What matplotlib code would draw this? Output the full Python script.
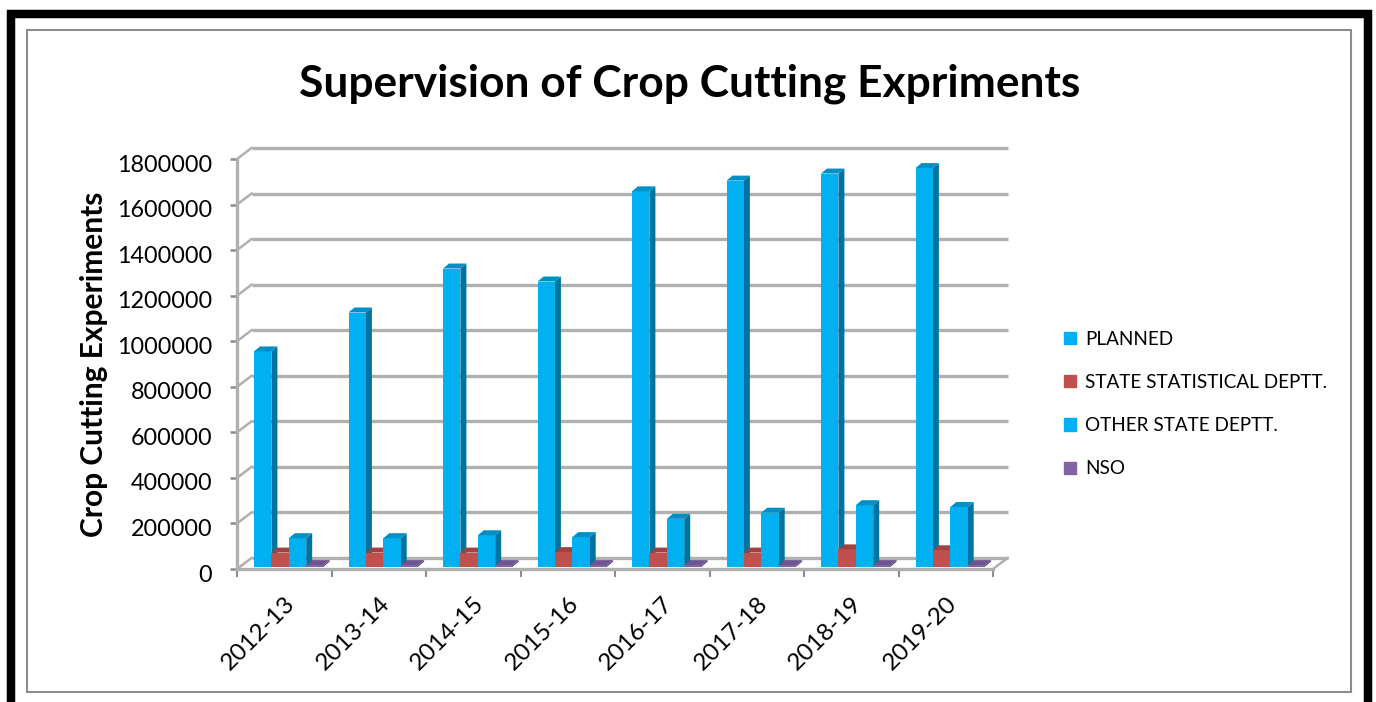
import matplotlib
matplotlib.use('Agg')
import matplotlib.pyplot as plt
from matplotlib.patches import Rectangle, Patch
from matplotlib.transforms import ScaledTranslation
import numpy as np

years = ['2012-13', '2013-14', '2014-15', '2015-16', '2016-17', '2017-18', '2018-19', '2019-20']
planned = [945000, 1116000, 1309000, 1252000, 1648000, 1695000, 1726000, 1750000]
state_stat = [62000, 62000, 62000, 64000, 62000, 62000, 76000, 72000]
other_dept = [125000, 125000, 138000, 130000, 210000, 237000, 270000, 262000]
nso = [7000, 7000, 7000, 7000, 7000, 7000, 7000, 7000]
y_ticks = np.arange(0, 2000000, 200000)

plt.rcParams['font.family'] = ['Lato', 'DejaVu Sans']

W, H = 1376, 702
fig = plt.figure(figsize=(W/100, H/100), dpi=100)

# frames round the picture, the black one runs off the bottom
fig.add_artist(Rectangle((11.3/W, 1-720/H), (1367.5-11.3)/W, (720-14)/H, transform=fig.transFigure,
                         fill=False, ec='black', lw=6.1))
fig.add_artist(Rectangle((27/W, 1-691.5/H), (1350.5-27)/W, (691.5-29.5)/H, transform=fig.transFigure,
                         fill=False, ec='#8c8c8c', lw=1.5))

# axes is the front plane of the 3d box
left, right, top, bottom = 237, 993, 159, 569
ax = fig.add_axes([left/W, 1-bottom/H, (right-left)/W, (bottom-top)/H])
ax.set_xlim(0, 8)
ax.set_ylim(0, 1800000)
ax.patch.set_alpha(0)

px_x = 8/(right-left)
px_y = 1800000/(bottom-top)
wall_dx = 14.5*px_x
wall_dy = 11*px_y
gray = '#b0b0b0'

for v in y_ticks:
    ax.plot([wall_dx, 8+wall_dx], [v+wall_dy, v+wall_dy], color=gray, lw=2.4, clip_on=False, zorder=1,
            solid_capstyle='butt')
    ax.plot([0, wall_dx], [v, v+wall_dy], color=gray, lw=1.8, clip_on=False, zorder=1)
ax.plot([8, 8+wall_dx], [0, wall_dy], color=gray, lw=1.8, clip_on=False, zorder=1)

for s in ['top', 'right']:
    ax.spines[s].set_visible(False)
for s in ['left', 'bottom']:
    ax.spines[s].set_color(gray)
    ax.spines[s].set_linewidth(2.4)

ax.set_yticks(y_ticks)
ax.set_yticklabels([str(v) for v in y_ticks], fontsize=16.8, color='black')
ax.tick_params(axis='y', length=5, width=1.8, color='#8c8c8c', pad=13)
shift = ScaledTranslation(0, -4/100, fig.dpi_scale_trans)
for lab in ax.get_yticklabels():
    lab.set_transform(lab.get_transform() + shift)
ax.set_xticks(np.arange(9))
ax.set_xticklabels([])
ax.set_xticks(np.arange(8)+0.5, labels=years, minor=True)
ax.tick_params(axis='x', which='major', length=6, width=1.5, color='#8c8c8c')
ax.tick_params(axis='x', which='minor', length=0, pad=17, labelsize=17.5)
for lab in ax.get_xticklabels(minor=True):
    lab.set_rotation(45)
    lab.set_ha('right')
    lab.set_rotation_mode('anchor')

ax.set_ylabel('Crop Cutting Experiments', fontsize=21.5, fontweight='bold', labelpad=6)

# bars with their side and top faces
series = [planned, state_stat, other_dept, nso]
face = ['#00b0f0', '#c0504d', '#00b0f0', '#8064a2']
side = ['#00749f', '#8c3a38', '#00749f', '#5d4877']
roof = ['#0090c6', '#a04340', '#0090c6', '#6e5590']
start = 17*px_x
w = 17.4*px_x
dx = 6*px_x
dy = 5*px_y
base = 2.3*px_y
for k in range(4):
    xs = np.arange(8) + start + k*w
    ax.bar(xs, series[k], width=w, bottom=base, align='edge', color=face[k], zorder=3+k*2)
    for x0, v in zip(xs, series[k]):
        t = base + v
        ax.fill([x0+w, x0+w+dx, x0+w+dx, x0+w], [base, base+dy, t+dy, t], color=side[k], lw=0, zorder=2+k*2)
        ax.fill([x0, x0+dx, x0+w+dx, x0+w], [t, t+dy, t+dy, t], color=roof[k], lw=0, zorder=3+k*2)

names = ['PLANNED', 'STATE STATISTICAL DEPTT.', 'OTHER STATE DEPTT.', 'NSO']
handles = [Patch(color=face[k], label=names[k]) for k in range(4)]
fig.legend(handles=handles, loc='center left', bbox_to_anchor=(1047/W, 1-404/H), frameon=False,
           fontsize=13.6, labelspacing=1.39, handlelength=0.63, handleheight=0.63, handletextpad=0.5)

fig.text(690/W, 1-84/H, 'Supervision of Crop Cutting Expriments', fontsize=31.9, fontweight='bold',
         ha='center', va='center')

fig.savefig('out.png', dpi=100)
